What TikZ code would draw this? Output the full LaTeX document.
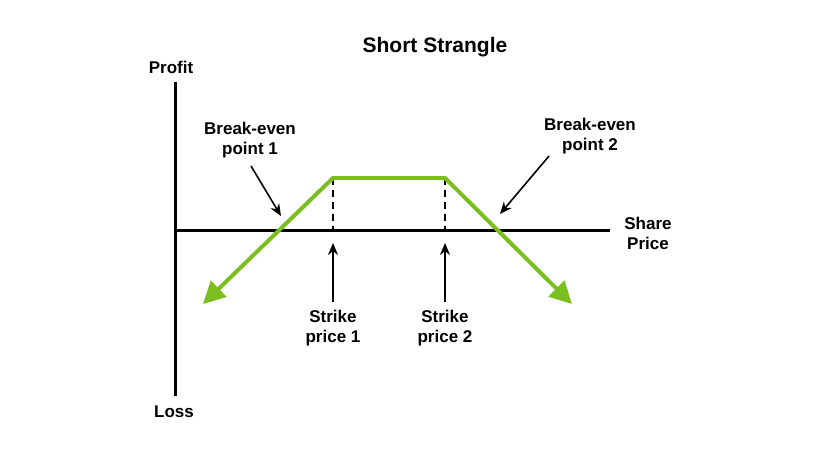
\documentclass[tikz,border=0pt]{standalone}
\usepackage{fontspec}
\setmainfont{Liberation Sans}
\usetikzlibrary{arrows.meta}
\definecolor{lg}{RGB}{122,190,32}
\begin{document}
\begin{tikzpicture}[x=1pt,y=-1pt,
  lbl/.style={font=\bfseries\fontsize{17}{20}\selectfont,align=center,inner sep=0},
  ax/.style={line width=3pt},
  pay/.style={lg,line width=4pt,-{Triangle[length=22pt,width=22pt]}},
  blk/.style={line width=1.6pt,-{Stealth[length=12pt,width=10pt]}}]
\useasboundingbox[fill=white] (0,0) rectangle (823,458);
\node[lbl,font=\bfseries\fontsize{21}{24}\selectfont] (title) at (435,47) {Short Strangle};
\node[lbl] (profit) at (171,67) {Profit};
\node[lbl] (loss) at (174,412) {Loss};
\node[lbl] (share) at (648,233) {Share\\Price};
\coordinate (vt) at (175,82); \coordinate (vb) at (175,396);
\coordinate (hl) at (175,230); \coordinate (hr) at (610,230);
\draw[ax] (vt) -- (vb);
\draw[ax] (hl) -- (hr);
\coordinate (k1) at (333,178); \coordinate (k2) at (445,178);
\coordinate (k1b) at (333,230); \coordinate (k2b) at (445,230);
\draw[dashed,line width=2.5pt,dash pattern=on 7pt off 5pt] (k1) -- (k1b);
\draw[dashed,line width=2.5pt,dash pattern=on 7pt off 5pt] (k2) -- (k2b);
\coordinate (l) at (203,304); \coordinate (r) at (572,304);
\draw[pay] (k1) -- (l);
\draw[pay] (k2) -- (r);
\draw[lg,line width=4pt,line cap=round] (k1) -- (k2);
\node[lbl] (s1) at (333,328) {Strike\\price 1};
\node[lbl] (s2) at (445,328) {Strike\\price 2};
\draw[blk] (s1.north) ++(0,-8) coordinate (s1t) (s1t) -- (333,243);
\draw[blk] (s2.north) ++(0,-8) coordinate (s2t) (s2t) -- (445,243);
\node[lbl] (b1) at (250,140) {Break-even\\point 1};
\node[lbl] (b2) at (590,136) {Break-even\\point 2};
\coordinate (b1e) at (281,216); \coordinate (b2e) at (500,214);
\draw[blk] (251,166) -- (b1e);
\draw[blk] (549,156) -- (b2e);
\end{tikzpicture}
\end{document}
